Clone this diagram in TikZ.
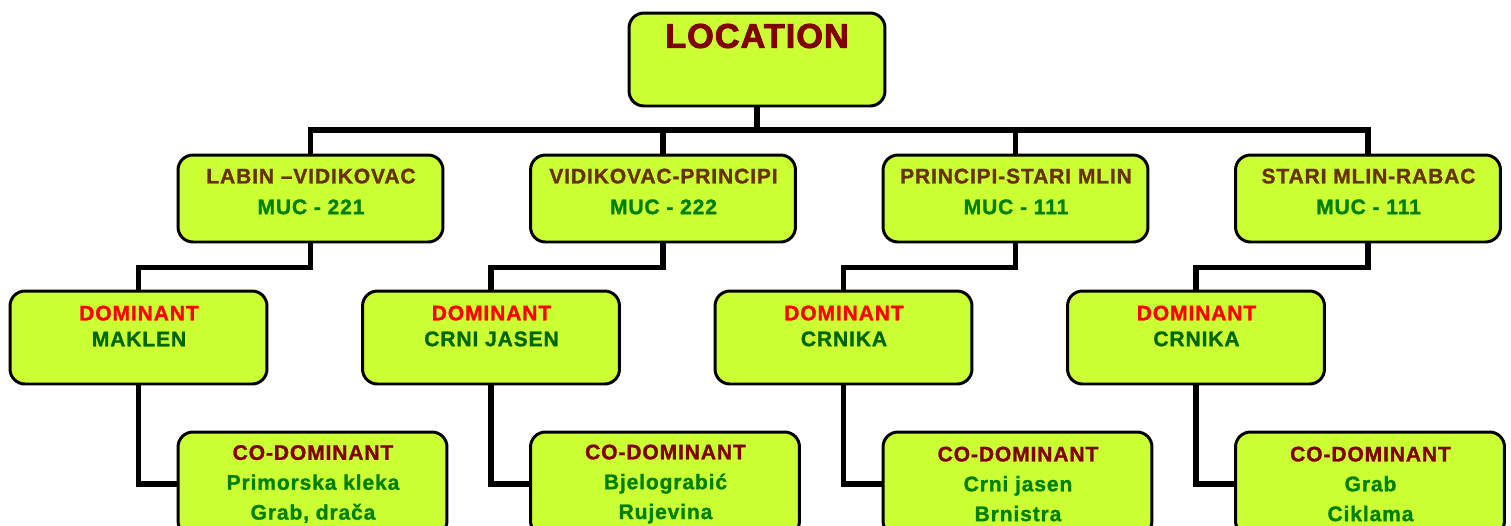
\documentclass[tikz,border=0pt]{standalone}
\usepackage{fontspec}
\setmainfont{Liberation Sans}
\usepackage{xcolor}
\usetikzlibrary{positioning}
\definecolor{boxfill}{HTML}{CCFF33}
\definecolor{locred}{HTML}{800000}
\definecolor{routebrown}{HTML}{663300}
\definecolor{mucgreen}{HTML}{008000}
\definecolor{domred}{HTML}{FF0000}
\definecolor{domgreen}{HTML}{006600}
\newcommand{\rootfont}{\fontsize{19.5}{23}\selectfont\bfseries\addfontfeatures{LetterSpace=3,FakeBold=2.5}}
\newcommand{\routefont}{\fontsize{12}{17.5}\selectfont\bfseries\addfontfeatures{LetterSpace=4,FakeBold=1.2}}
\newcommand{\domfont}{\fontsize{12}{14.7}\selectfont\bfseries\addfontfeatures{LetterSpace=4,FakeBold=1.2}}
\newcommand{\codfont}{\fontsize{12}{17}\selectfont\bfseries\addfontfeatures{LetterSpace=4,FakeBold=1.2}}
\tikzstyle{leaf}=[draw=black,fill=boxfill,line width=1.7pt,rounded corners=8.5pt,inner sep=0pt]
\tikzstyle{wire}=[draw=black,line width=2.9pt]

\begin{document}
\begin{tikzpicture}[x=0.02cm,y=-0.02cm]
  \useasboundingbox (0,0) rectangle (1511,525);

  \node[leaf,minimum width=5.12cm,minimum height=1.86cm] (loc) at (757,59.5) {};
  \node[font=\rootfont,text=locred] (loctext) at (757,36) {LOCATION};
  \coordinate (bus) at (757,130);
  \draw[wire] (loc.south) -- (bus);

  \foreach \i/\route/\muc/\dom/\coa/\cob in {%
    0/{LABIN –VIDIKOVAC}/221/MAKLEN/{Primorska kleka}/{Grab, drača},
    1/{VIDIKOVAC-PRINCIPI}/222/{CRNI JASEN}/{Bjelograbić}/{Rujevina},
    2/{PRINCIPI-STARI MLIN}/111/CRNIKA/{Crni jasen}/{Brnistra},
    3/{STARI MLIN-RABAC}/111/CRNIKA/{Grab}/{Ciklama}}{
    \begin{scope}[shift={(352.5*\i,0)}]
      \node[leaf,minimum width=5.3cm,minimum height=1.74cm] (m\i) at (310.5,198.5) {};
      \node[leaf,minimum width=5.14cm,minimum height=1.86cm] (d\i) at (138.5,337.5) {};
      \node[leaf,minimum width=5.38cm,minimum height=2.08cm] (c\i) at (312.5,484) {};

      \node[font=\routefont,align=center] (mt\i) at (311,191.5)
        {\textcolor{routebrown}{\route}\\\textcolor{mucgreen}{MUC - \muc}};
      \node[font=\domfont,align=center] (dt\i) at (139,326)
        {\textcolor{domred}{DOMINANT}\\\textcolor{domgreen}{\dom}};
      \node[font=\codfont,align=center] (ct\i) at (313,484)
        {\textcolor{locred}{CO-DOMINANT}\\\textcolor{mucgreen}{\coa}\\\textcolor{mucgreen}{\cob}};

      \draw[wire] (m\i.north) |- (bus);
      \draw[wire] (m\i.south) -- ++(0,24) -| (d\i.north);
      \draw[wire] (d\i.south) |- (c\i.west);
    \end{scope}
  }
\end{tikzpicture}
\end{document}
